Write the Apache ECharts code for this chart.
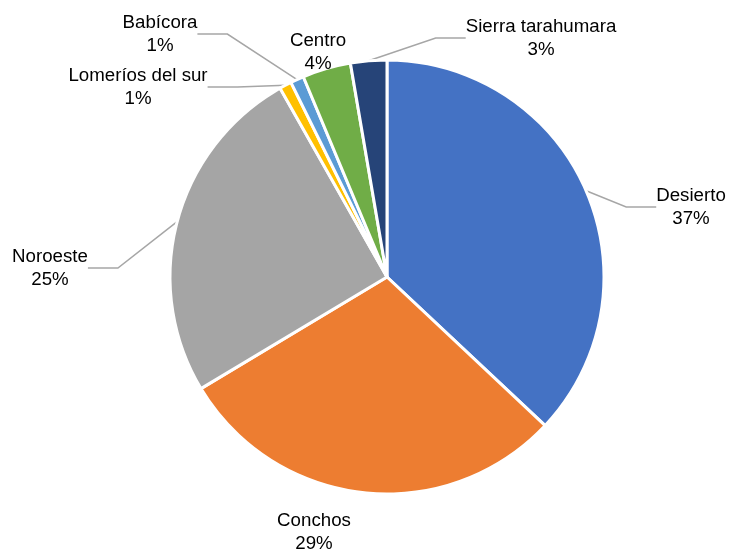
<!DOCTYPE html>
<html>
<head>
<meta charset="utf-8">
<script src="https://cdn.jsdelivr.net/npm/echarts@6/dist/echarts.min.js"></script>
<style>
  html, body { margin: 0; padding: 0; background: #ffffff; }
  #chart { width: 731px; height: 549px; }
</style>
</head>
<body>
<div id="chart"></div>
<script>
// Regiones (en orden horario desde las 12 en punto)
const regiones = ['Desierto', 'Conchos', 'Noroeste', 'Lomeríos del sur', 'Babícora', 'Centro', 'Sierra tarahumara'];
// Participación porcentual de cada región
const porcentajes = [37.0, 29.4, 25.4, 0.9, 1.0, 3.6, 2.7];
// Colores de cada sector
const colores = ['#4472C4', '#ED7D31', '#A5A5A5', '#FFC000', '#5B9BD5', '#70AD47', '#264478'];

// Posición de cada etiqueta (centro del bloque de texto) y si lleva línea guía
const etiquetas = [
  { x: 691, y: 207, guia: true },
  { x: 314, y: 532, guia: false },
  { x: 50,  y: 268, guia: true },
  { x: 138, y: 87,  guia: true },
  { x: 160, y: 34,  guia: true },
  { x: 318, y: 52,  guia: false },
  { x: 541, y: 38,  guia: true }
];

const datos = regiones.map((nombre, i) => ({
  name: nombre,
  value: porcentajes[i],
  itemStyle: { color: colores[i] },
  labelLine: { show: etiquetas[i].guia }
}));

const chart = echarts.init(document.getElementById('chart'), null, { renderer: 'canvas' });
chart.setOption({
  backgroundColor: '#ffffff',
  animation: false,
  series: [{
    type: 'pie',
    center: [387, 277],
    radius: 217,
    startAngle: 90,
    clockwise: true,
    data: datos,
    itemStyle: { borderColor: '#ffffff', borderWidth: 3 },
    label: {
      show: true,
      position: 'outside',
      formatter: p => p.name + '\n' + Math.round(p.value) + '%',
      fontFamily: 'Liberation Sans, Arial, sans-serif',
      fontSize: 18.7,
      lineHeight: 23,
      color: '#000000',
      align: 'center',
      overflow: 'none'
    },
    labelLine: {
      show: true,
      lineStyle: { color: '#A6A6A6', width: 1.5 }
    },
    labelLayout: params => {
      const e = etiquetas[params.dataIndex];
      return { x: e.x, y: e.y, align: 'center', verticalAlign: 'middle' };
    },
    emphasis: { disabled: true }
  }]
});
</script>
</body>
</html>
